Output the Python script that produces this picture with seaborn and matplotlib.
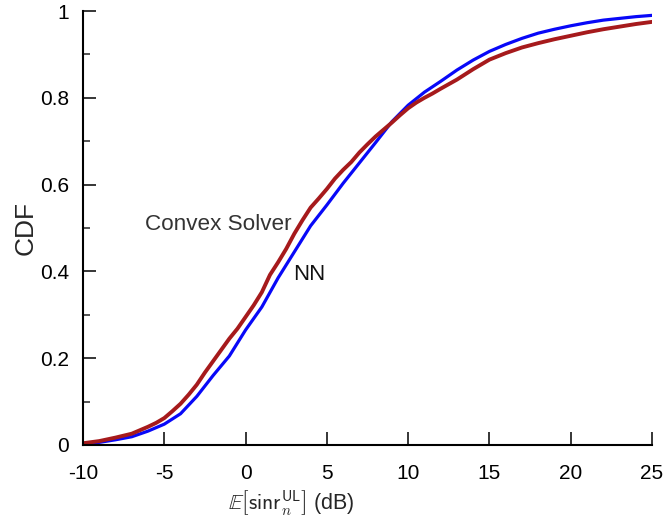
import numpy as np
import pandas as pd
import seaborn as sns
import matplotlib
matplotlib.use("Agg")
import matplotlib.pyplot as plt
from matplotlib.ticker import MultipleLocator

sns.set_style("ticks")
plt.rcParams['font.family'] = ['Liberation Sans', 'DejaVu Sans']
plt.rcParams['mathtext.fontset'] = 'cm'
plt.rcParams['axes.unicode_minus'] = False

# NN curve (smooth)
nn_x = [-10, -9, -8, -7, -6, -5, -4, -3, -2, -1, 0, 1, 2, 3, 4, 5, 6, 7, 8, 9,
        10, 11, 12, 13, 14, 15, 16, 17, 18, 19, 20, 21, 22, 23, 24, 25]
nn_y = [0.003, 0.006, 0.012, 0.019, 0.032, 0.048, 0.072, 0.112, 0.160, 0.205,
        0.265, 0.318, 0.385, 0.445, 0.505, 0.553, 0.603, 0.650, 0.697, 0.745,
        0.783, 0.813, 0.838, 0.864, 0.887, 0.907, 0.923, 0.937, 0.949, 0.958,
        0.966, 0.973, 0.979, 0.983, 0.987, 0.990]

# convex solver curve (empirical, a bit jagged)
cs_x = [-10, -9, -8, -7, -6, -5.5, -5, -4.5, -4, -3.5, -3, -2.5, -2, -1.5, -1,
        -0.5, 0, 0.5, 1, 1.5, 2, 2.5, 3, 3.5, 4, 4.5, 5, 5.5, 6, 6.5, 7, 7.5,
        8, 8.5, 9, 9.5, 10, 10.5, 11, 11.5, 12, 13, 14, 15, 16, 17, 18, 19,
        20, 21, 22, 23, 24, 25]
cs_y = [0.004, 0.009, 0.017, 0.026, 0.042, 0.051, 0.062, 0.078, 0.095, 0.116,
        0.139, 0.167, 0.193, 0.219, 0.245, 0.268, 0.295, 0.322, 0.352, 0.392,
        0.421, 0.452, 0.487, 0.518, 0.547, 0.568, 0.590, 0.614, 0.634, 0.652,
        0.674, 0.693, 0.711, 0.727, 0.743, 0.760, 0.776, 0.789, 0.800, 0.810,
        0.821, 0.842, 0.866, 0.888, 0.903, 0.916, 0.926, 0.935, 0.943, 0.951,
        0.958, 0.964, 0.970, 0.975]

xticks = [-10, -5, 0, 5, 10, 15, 20, 25]
yticks = [0, 0.2, 0.4, 0.6, 0.8, 1]
ytick_labels = ["0", "0.2", "0.4", "0.6", "0.8", "1"]

fig = plt.figure(figsize=(6.65, 5.25), dpi=100)
ax = fig.add_axes([0.1248, 0.1524, 0.8557, 0.8266])

sns.lineplot(x=nn_x, y=nn_y, ax=ax, color="#0808f8", linewidth=2.3)
sns.lineplot(x=cs_x, y=cs_y, ax=ax, color="#a61a1c", linewidth=2.8)

ax.set_xlim(-10, 25)
ax.set_ylim(0, 1)
ax.set_xticks(xticks)
ax.set_xticklabels([str(t) for t in xticks])
ax.set_yticks(yticks)
ax.set_yticklabels(ytick_labels)
ax.yaxis.set_minor_locator(MultipleLocator(0.1))

ax.tick_params(axis="both", which="major", direction="in", length=9.5,
               width=1.1, labelsize=15, color="black", labelcolor="black")
ax.tick_params(axis="y", which="minor", direction="in", length=5, width=1.1)
ax.tick_params(axis="x", pad=14)
ax.tick_params(axis="y", pad=10)

sns.despine(ax=ax)
for s in ["left", "bottom"]:
    ax.spines[s].set_linewidth(1.5)
    ax.spines[s].set_color("black")

ax.text(-6.2, 0.507, "Convex Solver", fontsize=16.2, color="#333333",
        va="center", ha="left")
ax.text(2.95, 0.392, "NN", fontsize=16, color="#111111",
        va="center", ha="left")

ax.set_ylabel("CDF", fontsize=19, labelpad=2)
ax.set_xlabel(r"$\mathbb{E}\left[\mathsf{sinr}_n^{\mathsf{UL}}\right]$ (dB)",
              fontsize=15.5, labelpad=3, x=0.366)

fig.savefig("out.png", dpi=100)
